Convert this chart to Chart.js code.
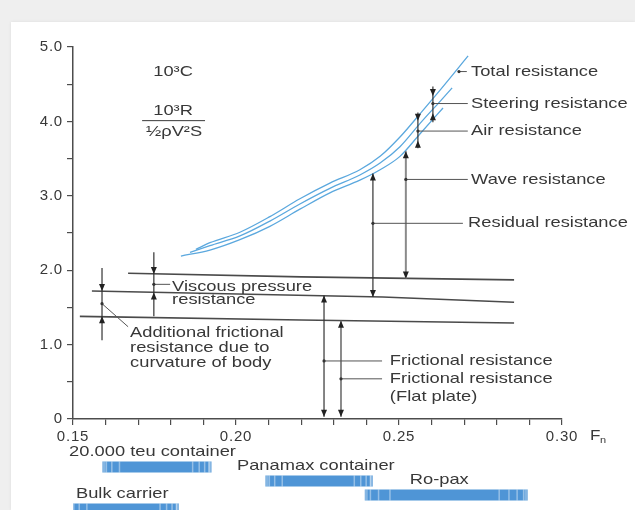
<!DOCTYPE html>
<html>
<head>
<meta charset="utf-8">
<script src="https://cdn.jsdelivr.net/npm/chart.js@4.4.1/dist/chart.umd.min.js"></script>
<style>
  html, body { margin: 0; padding: 0; width: 635px; height: 510px; overflow: hidden; background: #efefef; }
  #card { position: absolute; left: 11px; top: 22px; right: 0; bottom: 0; background: #fff; box-shadow: 0 0 3px rgba(0,0,0,0.08); }
  #chart { position: absolute; left: 0; top: 0; }
  #ships { position: absolute; left: 0; top: 440px; }
</style>
</head>
<body>
<div id="card"></div>
<canvas id="chart" width="635" height="510"></canvas>
<canvas id="ships" width="635" height="80"></canvas>
<script>
// Froude number (x) and 10^3 C (y)
const totalF = [0.1877, 0.192, 0.2012, 0.2104, 0.2196, 0.2288, 0.238, 0.2442, 0.2503, 0.2564, 0.2626, 0.2712];
const totalC = [2.28, 2.37, 2.51, 2.72, 2.96, 3.17, 3.35, 3.53, 3.79, 4.10, 4.42, 4.88];
const steeringF = [0.1859, 0.192, 0.2012, 0.2104, 0.2196, 0.2288, 0.238, 0.2442, 0.2503, 0.2564, 0.2626, 0.2663];
const steeringC = [2.24, 2.33, 2.46, 2.66, 2.89, 3.10, 3.28, 3.44, 3.66, 3.97, 4.27, 4.45];
const airF = [0.1831, 0.192, 0.2012, 0.2104, 0.2196, 0.2288, 0.238, 0.2442, 0.2503, 0.2564, 0.2635];
const airC = [2.19, 2.27, 2.41, 2.59, 2.82, 3.04, 3.21, 3.35, 3.53, 3.83, 4.18];

const viscousF = [0.1669, 0.22, 0.2853];
const viscousC = [1.96, 1.91, 1.87];
const frictionF = [0.1558, 0.245, 0.2853];
const frictionC = [1.72, 1.64, 1.57];
const flatPlateF = [0.1521, 0.22, 0.2853];
const flatPlateC = [1.38, 1.33, 1.29];

const xTickValues = [0.15, 0.20, 0.25, 0.30];
const xTickLabels = ['0.15', '0.20', '0.25', '0.30'];
const yTickLabels = ['0', '1.0', '2.0', '3.0', '4.0', '5.0'];

const shipTypes = ['20.000 teu container', 'Panamax container', 'Ro-pax', 'Bulk carrier'];
const shipFnFrom = [0.159, 0.209, 0.2395, 0.149];
const shipFnTo = [0.1925, 0.242, 0.2895, 0.1825];

const ink = '#383838';
const axisInk = '#4d4d4d';
const blue = '#5ba8de';
const font = '"Liberation Sans", Arial, sans-serif';
const stretch = 1.22;

function pts(fs, cs) {
    return fs.map((f, i) => ({ x: f, y: cs[i] }));
}
function curve(fs, cs) {
    return { data: pts(fs, cs), borderColor: blue, borderWidth: 1.3, cubicInterpolationMode: 'monotone', pointRadius: 0 };
}
function greyLine(fs, cs) {
    return { data: pts(fs, cs), borderColor: '#4a4a4a', borderWidth: 1.6, tension: 0, pointRadius: 0 };
}

function wideText(ctx, text, x, y, align, size) {
    ctx.save();
    ctx.translate(x, y);
    ctx.scale(stretch, 1);
    ctx.font = size + 'px ' + font;
    ctx.textAlign = align || 'left';
    ctx.textBaseline = 'middle';
    ctx.fillText(text, 0, 0);
    ctx.restore();
}

// dimension arrows, leaders and labels in chart units (Fn, 10^3 C)
const dims = [
    { f: 0.1589, from: 2.03, to: 1.06, heads: [[1.72, 1], [1.38, -1]] },
    { f: 0.1748, from: 2.24, to: 1.38, heads: [[1.95, 1], [1.70, -1]] },
    { f: 0.2270, from: 0.03, to: 1.66, heads: [[1.66, -1], [0.03, 1]] },
    { f: 0.2322, from: 0.03, to: 1.32, heads: [[1.32, -1], [0.03, 1]], soft: true },
    { f: 0.2420, from: 1.64, to: 3.30, heads: [[3.30, -1], [1.64, 1]] },
    { f: 0.2521, from: 1.89, to: 3.60, heads: [[3.60, -1], [1.89, 1]], soft: true },
    { f: 0.2558, from: 4.12, to: 3.64, heads: [[4.01, 1], [3.74, -1]] },
    { f: 0.2604, from: 4.47, to: 3.99, heads: [[4.34, 1], [4.11, -1]] }
];
const leaders = [
    [0.1589, 1.55, 0.1669, 1.24],
    [0.1748, 1.81, 0.1798, 1.81],
    [0.2270, 0.78, 0.2448, 0.78],
    [0.2322, 0.54, 0.2448, 0.54],
    [0.2420, 2.63, 0.2696, 2.63],
    [0.2521, 3.22, 0.2711, 3.22],
    [0.2558, 3.87, 0.2711, 3.87],
    [0.2604, 4.24, 0.2711, 4.24],
    [0.2684, 4.67, 0.2708, 4.67]
];
const notes = [
    ['Total resistance', 0.2721, 4.67],
    ['Steering resistance', 0.2721, 4.24],
    ['Air resistance', 0.2721, 3.87],
    ['Wave resistance', 0.2721, 3.22],
    ['Residual resistance', 0.2712, 2.63],
    ['Viscous pressure', 0.1804, 1.78],
    ['resistance', 0.1804, 1.60],
    ['Additional frictional', 0.1675, 1.16],
    ['resistance due to', 0.1675, 0.95],
    ['curvature of body', 0.1675, 0.75],
    ['Frictional resistance', 0.2472, 0.78],
    ['Frictional resistance', 0.2472, 0.54],
    ['(Flat plate)', 0.2472, 0.30]
];

const spacing = {
    id: 'spacing',
    beforeDraw(chart) { chart.ctx.letterSpacing = '0.8px'; },
    afterDraw(chart) { chart.ctx.letterSpacing = '0px'; }
};

const annotate = {
    id: 'annotate',
    afterDatasetsDraw(chart) {
        const { ctx, scales: { x, y } } = chart;
        const px = f => x.getPixelForValue(f);
        const py = v => y.getPixelForValue(v);
        ctx.save();
        ctx.letterSpacing = '0px';

        dims.forEach(d => {
            const X = px(d.f);
            ctx.strokeStyle = d.soft ? '#8a8a8a' : '#333';
            ctx.fillStyle = '#222';
            ctx.lineWidth = d.soft ? 2 : 1.2;
            ctx.beginPath();
            ctx.moveTo(X, py(d.from));
            ctx.lineTo(X, py(d.to));
            ctx.stroke();
            d.heads.forEach(([v, dir]) => {
                const Y = py(v);
                ctx.beginPath();
                ctx.moveTo(X, Y);
                ctx.lineTo(X - 3, Y - dir * 7);
                ctx.lineTo(X + 3, Y - dir * 7);
                ctx.closePath();
                ctx.fill();
            });
        });

        ctx.strokeStyle = '#555';
        ctx.lineWidth = 1;
        leaders.forEach(([f1, v1, f2, v2]) => {
            ctx.beginPath();
            ctx.moveTo(px(f1), py(v1));
            ctx.lineTo(px(f2), py(v2));
            ctx.stroke();
            ctx.fillStyle = '#333';
            ctx.beginPath();
            ctx.arc(px(f1), py(v1), 1.6, 0, Math.PI * 2);
            ctx.fill();
        });

        ctx.fillStyle = ink;
        notes.forEach(([t, f, v]) => wideText(ctx, t, px(f), py(v), 'left', 15));

        // coefficient definition
        wideText(ctx, '10³C', px(0.1807), py(4.66), 'center', 15);
        wideText(ctx, '10³R', px(0.1807), py(4.14), 'center', 15);
        ctx.strokeStyle = ink;
        ctx.beginPath();
        ctx.moveTo(px(0.1712), py(4.01));
        ctx.lineTo(px(0.1905), py(4.01));
        ctx.stroke();
        wideText(ctx, '½ρV²S', px(0.181), py(3.86), 'center', 15);

        // axis title Fn
        const ty = y.bottom + 17;
        wideText(ctx, 'F', px(0.3086), ty, 'left', 14);
        wideText(ctx, 'n', px(0.3086) + 10, ty + 5, 'left', 9);
        ctx.restore();
    }
};

new Chart(document.getElementById('chart'), {
    type: 'line',
    data: {
        datasets: [
            curve(totalF, totalC),
            curve(steeringF, steeringC),
            curve(airF, airC),
            greyLine(viscousF, viscousC),
            greyLine(frictionF, frictionC),
            greyLine(flatPlateF, flatPlateC)
        ]
    },
    options: {
        responsive: false,
        animation: false,
        devicePixelRatio: 1,
        layout: { padding: { left: 0, right: 73, top: 47, bottom: 51 } },
        plugins: { legend: { display: false }, tooltip: { enabled: false } },
        scales: {
            x: {
                type: 'linear',
                min: 0.15,
                max: 0.30,
                afterFit: s => { s.height = 40; },
                border: { color: axisInk, width: 1.5 },
                grid: { drawOnChartArea: false, tickLength: 6, color: axisInk, lineWidth: 1.2 },
                ticks: {
                    stepSize: 0.01,
                    autoSkip: false,
                    maxRotation: 0,
                    padding: 3,
                    color: ink,
                    font: { family: font, size: 15 },
                    callback: v => {
                        const i = xTickValues.findIndex(t => Math.abs(t - v) < 1e-6);
                        return i < 0 ? '' : xTickLabels[i];
                    }
                }
            },
            y: {
                min: 0,
                max: 5,
                afterFit: s => { s.width = 73; },
                border: { color: axisInk, width: 1.5 },
                grid: { drawOnChartArea: false, tickLength: 6, color: axisInk, lineWidth: 1.2 },
                ticks: {
                    stepSize: 0.5,
                    padding: 4,
                    color: ink,
                    font: { family: font, size: 15 },
                    callback: v => Number.isInteger(v) ? yTickLabels[v] : ''
                }
            }
        }
    },
    plugins: [spacing, annotate]
});

// ship type ranges below the Fn axis
const shipLabels = {
    id: 'shipLabels',
    afterDatasetsDraw(chart) {
        const { ctx, scales: { x } } = chart;
        const anchorF = [0.1488, 0.2003, 0.2533, 0.1509];
        const meta = chart.getDatasetMeta(0);
        ctx.save();
        meta.data.forEach((bar, i) => {
            const a = Math.min(bar.base, bar.x), b = Math.max(bar.base, bar.x);
            const top = bar.y - bar.height / 2;
            ctx.fillStyle = 'rgba(255,255,255,0.4)';
            [0.03, 0.08, 0.15, 0.82, 0.88, 0.93, 0.97].forEach(p => {
                ctx.fillRect(a + (b - a) * p, top, 1.5, bar.height);
            });
            ctx.fillStyle = 'rgba(255,255,255,0.3)';
            ctx.fillRect(a, top, 3, bar.height);
            ctx.fillRect(b - 3, top, 3, bar.height);
            ctx.fillStyle = ink;
            wideText(ctx, shipTypes[i], x.getPixelForValue(anchorF[i]), bar.y - 15, 'left', 15);
        });
        ctx.restore();
    }
};

new Chart(document.getElementById('ships'), {
    type: 'bar',
    data: {
        labels: shipTypes,
        datasets: [{
            data: shipTypes.map((_, i) => [shipFnFrom[i], shipFnTo[i]]),
            backgroundColor: '#4f95d6',
            borderWidth: 0,
            barPercentage: 0.8,
            categoryPercentage: 1
        }]
    },
    options: {
        indexAxis: 'y',
        responsive: false,
        animation: false,
        devicePixelRatio: 1,
        layout: { padding: { left: 73, right: 73, top: 20, bottom: 4 } },
        plugins: { legend: { display: false }, tooltip: { enabled: false } },
        scales: {
            x: { type: 'linear', min: 0.15, max: 0.30, display: false },
            y: { display: false }
        }
    },
    plugins: [shipLabels]
});
</script>
</body>
</html>
